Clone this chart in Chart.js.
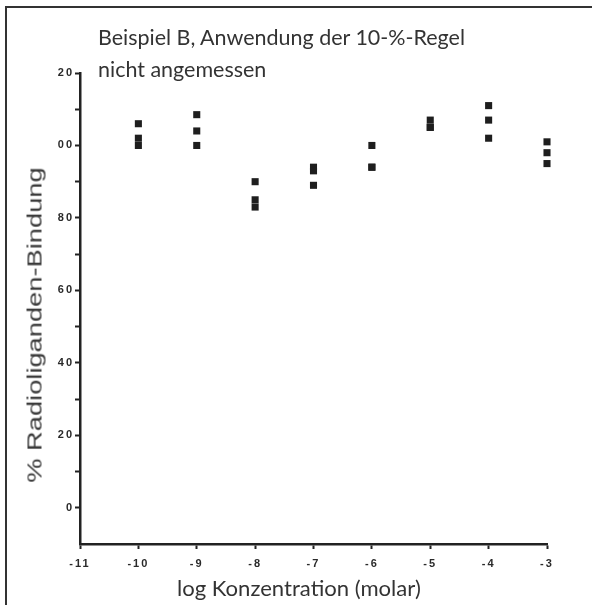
<!DOCTYPE html>
<html>
<head>
<meta charset="utf-8">
<script src="https://cdn.jsdelivr.net/npm/chart.js@4"></script>
<style>
  body { margin: 0; background: #fff; }
  #wrap { position: relative; width: 592px; height: 605px; overflow: hidden; }
  #frame { position: absolute; left: 5px; top: 6px; width: 620px; height: 640px;
           border-top: 2px solid #333; border-left: 2px solid #333; }
  canvas { position: absolute; left: 0; top: 0; }
  .txt { position: absolute; color: #333; white-space: nowrap; }
  #title { left: 98px; top: 22px; font-family: Lato; font-size: 22px; line-height: 31.5px; }
  #xTitle { left: 177px; top: 574px; font-family: Lato; font-size: 20px; }
  #yTitle { left: 35px; top: 325px; font-family: "Liberation Sans"; font-size: 20px; color: #3a3a3a; }
</style>
</head>
<body>
<div id="wrap">
  <div id="frame"></div>
  <canvas id="chart" width="592" height="605"></canvas>
  <div class="txt" id="title"><span id="t1">Beispiel B, Anwendung der 10-%-Regel</span><br>nicht angemessen</div>
  <div class="txt" id="yTitle">% Radioliganden-Bindung</div>
  <div class="txt" id="xTitle">log Konzentration (molar)</div>
</div>
<script>
// log concentration and three replicate bindings (%)
const concentrations = [-10, -9, -8, -7, -6, -5, -4, -3];
const bindingA = [106, 108.5, 90, 94, 100, 107, 111, 101];
const bindingB = [102, 104, 85, 93, 94, 105, 107, 98];
const bindingC = [100, 100, 83, 89, 94, 105, 102, 95];

// tick labels as printed on the figure
const yTickValues = [0, 20, 40, 60, 80, 100, 120];
const yTickLabels = ["0", "20", "40", "60", "80", "00", "20"];

const points = [];
concentrations.forEach((c, i) => {
  points.push({ x: c, y: bindingA[i] });
  points.push({ x: c, y: bindingB[i] });
  points.push({ x: c, y: bindingC[i] });
});

// size the html titles to the widths they have in the figure
const title = document.getElementById("title");
const t1 = document.getElementById("t1");
title.style.fontSize = (22 * 367 / t1.offsetWidth) + "px";

const xTitle = document.getElementById("xTitle");
xTitle.style.fontSize = (20 * 244 / xTitle.offsetWidth) + "px";

const yTitle = document.getElementById("yTitle");
const sx = 315 / yTitle.offsetWidth;
yTitle.style.transform = `translate(-50%, -50%) rotate(-90deg) scaleX(${sx})`;

const tickFont = { family: "Liberation Sans", size: 11, weight: "bold" };

const spacing = {
  id: "spacing",
  beforeDraw(chart) { chart.ctx.letterSpacing = "2px"; }
};

new Chart(document.getElementById("chart"), {
  type: "scatter",
  data: {
    datasets: [{
      data: points,
      clip: false,
      pointStyle: "rect",
      pointRadius: 5,
      pointHoverRadius: 5,
      backgroundColor: "#1e1e1e",
      borderWidth: 0
    }]
  },
  options: {
    responsive: false,
    animation: false,
    devicePixelRatio: 1,
    layout: { padding: { top: 73, right: 45, left: 0, bottom: 0 } },
    plugins: { legend: { display: false }, tooltip: { enabled: false } },
    scales: {
      x: {
        type: "linear",
        min: -11,
        max: -3,
        afterFit: s => { s.height = 61; },
        ticks: { stepSize: 1, font: tickFont, color: "#2a2a2a", padding: 8,
                 callback: v => String(v) },
        grid: { drawOnChartArea: false, tickLength: 5, tickWidth: 2, tickColor: "#222" },
        border: { color: "#222", width: 2.5 }
      },
      y: {
        min: -10,
        max: 120,
        afterFit: s => { s.width = 80; },
        ticks: {
          stepSize: 10, font: tickFont, color: "#2a2a2a", padding: 1,
          callback: v => {
            const i = yTickValues.indexOf(v);
            return i >= 0 ? yTickLabels[i] : "";
          }
        },
        grid: {
          drawOnChartArea: false, tickLength: 5, tickWidth: 2,
          tickColor: c => (c.tick && c.tick.value === -10) ? "transparent" : "#222"
        },
        border: { color: "#222", width: 2.5 }
      }
    }
  },
  plugins: [spacing]
});
</script>
</body>
</html>
